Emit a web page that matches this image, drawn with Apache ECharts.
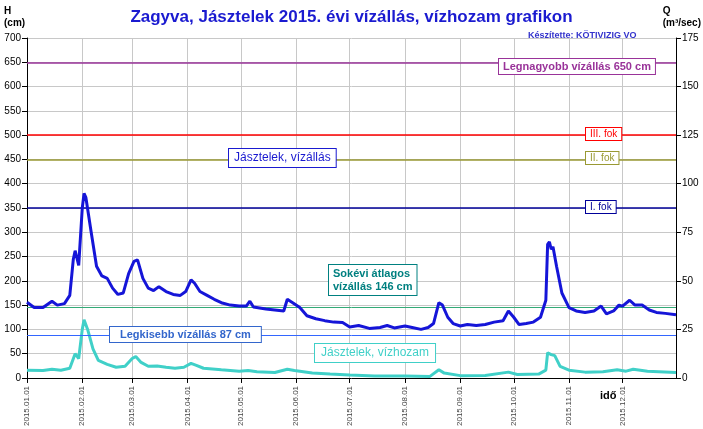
<!DOCTYPE html>
<html><head><meta charset="utf-8">
<script src="https://cdn.jsdelivr.net/npm/echarts@6/dist/echarts.min.js"></script>
<style>html,body{margin:0;padding:0;background:#fff}#c{width:703px;height:429px}</style>
</head><body><div id="c"></div>
<script>
const hDates=['2015-01-01','2015-01-05','2015-01-10','2015-01-15','2015-01-18','2015-01-22','2015-01-25','2015-01-27','2015-01-28','2015-01-30','2015-02-01','2015-02-02','2015-02-03','2015-02-06','2015-02-09','2015-02-12','2015-02-15','2015-02-18','2015-02-21','2015-02-24','2015-02-27','2015-03-02','2015-03-04','2015-03-07','2015-03-10','2015-03-13','2015-03-16','2015-03-20','2015-03-24','2015-03-28','2015-03-31','2015-04-03','2015-04-05','2015-04-08','2015-04-12','2015-04-16','2015-04-20','2015-04-25','2015-04-30','2015-05-04','2015-05-06','2015-05-08','2015-05-15','2015-05-20','2015-05-25','2015-05-27','2015-05-30','2015-06-03','2015-06-07','2015-06-12','2015-06-17','2015-06-22','2015-06-27','2015-07-01','2015-07-06','2015-07-12','2015-07-18','2015-07-22','2015-07-26','2015-08-01','2015-08-05','2015-08-10','2015-08-14','2015-08-17','2015-08-20','2015-08-22','2015-08-25','2015-08-28','2015-09-01','2015-09-05','2015-09-10','2015-09-15','2015-09-20','2015-09-25','2015-09-28','2015-10-01','2015-10-04','2015-10-08','2015-10-12','2015-10-16','2015-10-19','2015-10-20','2015-10-21','2015-10-22','2015-10-23','2015-10-25','2015-10-28','2015-11-01','2015-11-05','2015-11-10','2015-11-15','2015-11-19','2015-11-22','2015-11-26','2015-11-29','2015-12-01','2015-12-05','2015-12-08','2015-12-12','2015-12-16','2015-12-20','2015-12-25','2015-12-31'];
const hValues=[156,145,145,158,150,153,170,245,262,232,350,380,372,300,230,210,205,185,172,175,215,240,243,205,185,180,188,178,172,170,178,202,195,178,170,162,155,150,148,148,158,146,142,140,138,162,155,145,128,122,118,115,114,105,108,102,104,108,103,107,104,100,104,112,155,150,125,112,107,110,108,110,115,118,138,125,110,112,115,125,160,275,280,265,270,230,175,145,138,135,138,148,132,138,150,148,160,150,150,140,135,133,130];
const qDates=['2015-01-01','2015-01-10','2015-01-15','2015-01-20','2015-01-25','2015-01-28','2015-01-30','2015-02-01','2015-02-02','2015-02-04','2015-02-07','2015-02-10','2015-02-15','2015-02-20','2015-02-25','2015-03-01','2015-03-03','2015-03-06','2015-03-10','2015-03-15','2015-03-20','2015-03-25','2015-03-30','2015-04-03','2015-04-06','2015-04-10','2015-04-20','2015-04-30','2015-05-05','2015-05-10','2015-05-20','2015-05-27','2015-05-31','2015-06-10','2015-06-20','2015-07-01','2015-07-15','2015-08-01','2015-08-15','2015-08-20','2015-08-23','2015-09-01','2015-09-15','2015-09-28','2015-10-03','2015-10-15','2015-10-19','2015-10-20','2015-10-22','2015-10-24','2015-10-27','2015-11-01','2015-11-10','2015-11-20','2015-11-28','2015-12-03','2015-12-07','2015-12-15','2015-12-31'];
const qValues=[4,3.8,4.5,4,5,12.5,10,25,30,25,15,9,7,5.5,6,10,11,8,6,6.2,5.5,5,5.5,7.5,6.5,5,4.2,3.5,3.8,3.2,2.8,4.5,3.8,2.5,2,1.5,1,1,0.8,4.2,2.5,1.2,1.3,3,1.8,2,4,13,12,11.5,6,4,3,3.2,4.2,3.5,4.5,3.5,2.8];
const hTicks=[0,700,50]; const qTicks=[0,175,25];
const levels=[{v:650,c:'#993399'},{v:500,c:'#ff0000'},{v:450,c:'#999933'},{v:350,c:'#000099'},{v:146,c:'#33aa77'},{v:87,c:'#3366ff'}];

const ch=echarts.init(document.getElementById('c'));
const T=(o)=>Object.assign({type:'text',z:100,zlevel:1},o);
ch.setOption({
 animation:false,
 title:{text:'Zagyva, Jásztelek 2015. évi vízállás, vízhozam grafikon',left:'center',top:4,textStyle:{color:'#1a1ad0',fontFamily:'Arial',fontSize:17,fontWeight:'bold'}},
 grid:{left:27,right:27,top:38,bottom:51},
 xAxis:{type:'time',min:'2015-01-01',max:'2015-12-31',splitNumber:12,minInterval:28*86400000,
   axisLine:{lineStyle:{color:'#000'}},axisTick:{show:true},
   splitLine:{show:true,lineStyle:{color:'#c8c8c8'}},
   axisLabel:{rotate:90,fontSize:8,color:'#444',fontFamily:'Arial',showMinLabel:true,showMaxLabel:false,
     formatter:v=>{const d=new Date(v);return d.getFullYear()+'.'+String(d.getMonth()+1).padStart(2,'0')+'.'+String(d.getDate()).padStart(2,'0');},hideOverlap:false}},
 yAxis:[{type:'value',min:hTicks[0],max:hTicks[1],interval:hTicks[2],axisLine:{show:true,lineStyle:{color:'#000'}},axisTick:{show:true},
   splitLine:{lineStyle:{color:'#c8c8c8'}},axisLabel:{fontSize:10,color:'#000',fontFamily:'Arial',margin:6}},
  {type:'value',min:qTicks[0],max:qTicks[1],interval:qTicks[2],axisLine:{show:true,lineStyle:{color:'#000'}},axisTick:{show:true},
   splitLine:{show:false},axisLabel:{fontSize:10,color:'#000',fontFamily:'Arial',margin:6}}],
 graphic:[
  T({left:4,top:5,style:{text:'H\n(cm)',fill:'#000',font:'bold 10px Arial',lineHeight:12,align:'center'}}),
  T({right:2,top:5,style:{text:'Q\n(m³/sec)',fill:'#000',font:'bold 10px Arial',lineHeight:12,align:'center'}}),
  T({left:528,top:31,style:{text:'Készítette: KÖTIVIZIG VO',fill:'#3333cc',font:'bold 9px Arial'}}),
  T({left:600,top:390,style:{text:'idő',fill:'#000',font:'bold 11px Arial'}}),
  T({left:498,top:58,style:{text:'Legnagyobb vízállás 650 cm',fill:'#993399',font:'bold 11px Arial',backgroundColor:'#fff',borderColor:'#993399',borderWidth:1,padding:[2,4]}}),
  T({left:585,top:127,style:{text:'III. fok',fill:'#ff0000',font:'10px Arial',backgroundColor:'#fff',borderColor:'#ff0000',borderWidth:1,padding:[1,4]}}),
  T({left:585,top:151,style:{text:'II. fok',fill:'#999933',font:'10px Arial',backgroundColor:'#fff',borderColor:'#999933',borderWidth:1,padding:[1,4]}}),
  T({left:585,top:200,style:{text:'I. fok',fill:'#000099',font:'10px Arial',backgroundColor:'#fff',borderColor:'#000099',borderWidth:1,padding:[1,4]}}),
  T({left:228,top:148,style:{text:'Jásztelek, vízállás',fill:'#1a1ad0',font:'12px Arial',backgroundColor:'#fff',borderColor:'#1a1ad0',borderWidth:1,padding:[3,5]}}),
  T({left:328,top:264,style:{text:'Sokévi átlagos\nvízállás 146 cm',fill:'#008080',font:'bold 11px Arial',align:'center',lineHeight:13,backgroundColor:'#fff',borderColor:'#008080',borderWidth:1,padding:[2,4]}}),
  T({left:109,top:326,style:{text:'Legkisebb vízállás 87 cm',fill:'#3366cc',font:'bold 11px Arial',backgroundColor:'#fff',borderColor:'#3366cc',borderWidth:1,padding:[2,10]}}),
  T({left:314,top:343,style:{text:'Jásztelek, vízhozam',fill:'#40d0c8',font:'12px Arial',backgroundColor:'#fff',borderColor:'#40d0c8',borderWidth:1,padding:[3,6]}})
 ],
 series:[
  {type:'line',name:'H',yAxisIndex:0,data:hDates.map((d,i)=>[d,hValues[i]]),showSymbol:false,lineStyle:{color:'#1515d8',width:3},z:5,
   markLine:{symbol:'none',silent:true,label:{show:false},data:levels.map(l=>({yAxis:l.v,lineStyle:{color:l.c,type:'solid',width:l.v==146||l.v==87?1:1.5}}))}},
  {type:'line',name:'Q',yAxisIndex:1,data:qDates.map((d,i)=>[d,qValues[i]]),showSymbol:false,lineStyle:{color:'#40d0c8',width:3},z:4}
 ]
});
</script></body></html>
